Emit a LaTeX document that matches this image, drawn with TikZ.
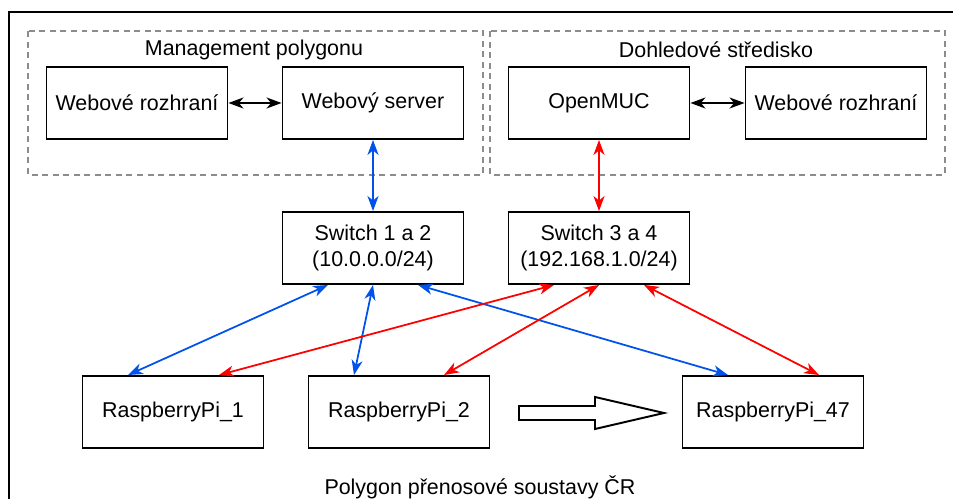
\documentclass[tikz,border=0pt]{standalone}
\usepackage{fontspec}
\setmainfont{Liberation Sans}
\usetikzlibrary{calc,arrows.meta}

\definecolor{linkblue}{RGB}{0,82,235}
\definecolor{linkred}{RGB}{255,0,0}
\definecolor{framegray}{RGB}{140,140,140}

\begin{document}
\begin{tikzpicture}[x=0.02cm,y=-0.02cm,
		font=\fontsize{12.2}{14.5}\selectfont,
		box/.style={draw,line width=1.1pt,minimum width=3.62cm,minimum height=1.44cm,align=center,inner sep=2pt},
		group/.style={draw=framegray,line width=0.9pt,dash pattern=on 3.4pt off 2.6pt},
		link/.style={line width=1pt,{Stealth[length=3mm,width=2.2mm,inset=0.9mm]}-{Stealth[length=3mm,width=2.2mm,inset=0.9mm]}}]
		% Page and outer frame
		\useasboundingbox (0,0) rectangle (953,499);
		\draw[line width=1.1pt] (9,12) rectangle (962,510);
		
		% Dashed groups
		\draw[group] (28,31) rectangle (483,175);
		\draw[group] (490,31) rectangle (945,175);
		\node (mgmt) at (254,50) {Management polygonu};
		\node (dohled) at (716,50) {Dohledové středisko};
		
		% Top boxes
		\node[box] (webL) at (137,103) {Webové rozhraní};
		\node[box] (server) at (373,103) {Webový server};
		\node[box] (muc) at (599,103) {OpenMUC};
		\node[box] (webR) at (836,103) {Webové rozhraní};
		
		% Switches
		\node[box] (sw12) at (373,248) {Switch 1 a 2\\(10.0.0.0/24)};
		\node[box] (sw34) at (599,248) {Switch 3 a 4\\(192.168.1.0/24)};
		
		% Raspberry boards
		\node[box] (rpi1) at (173,412) {RaspberryPi\_1};
		\node[box] (rpi2) at (399,412) {RaspberryPi\_2};
		\node[box] (rpi47) at (773,412) {RaspberryPi\_47};
		
		% Links inside groups
		\draw[link] (webL) -- (server);
		\draw[link] (muc) -- (webR);
		
		% Links to switches
		\draw[link,linkblue] (server) -- (sw12);
		\draw[link,linkred] (muc) -- (sw34);
		
		% Blue network
		\draw[link,linkblue] ($(sw12.south)+(-45,0)$) -- ($(rpi1.north)+(-45,0)$);
		\draw[link,linkblue] (sw12.south) -- ($(rpi2.north)+(-45,0)$);
		\draw[link,linkblue] ($(sw12.south)+(45,0)$) -- ($(rpi47.north)+(-45,0)$);
		
		% Red network
		\draw[link,linkred] ($(sw34.south)+(-45,0)$) -- ($(rpi1.north)+(46,0)$);
		\draw[link,linkred] (sw34.south) -- ($(rpi2.north)+(45,0)$);
		\draw[link,linkred] ($(sw34.south)+(45,0)$) -- ($(rpi47.north)+(46,0)$);
		
		% Big arrow between boards
		\draw[line width=1.1pt,fill=white] (519,406) -- (595,406) -- (595,397) -- (664,413)
		-- (595,429) -- (595,420) -- (519,420) -- cycle;
		
		\node (polygon) at (480,487) {Polygon přenosové soustavy ČR};
	\end{tikzpicture}
\end{document}
